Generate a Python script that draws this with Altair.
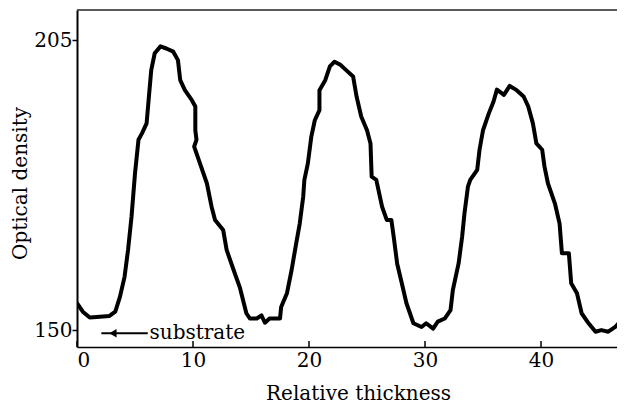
import altair as alt
import pandas as pd

# Curve
thickness = [0.0, 0.5, 1.1, 1.7, 2.8, 3.3, 3.7, 4.1, 4.4, 4.7, 5.0, 5.3, 5.6, 6.0, 6.2, 6.4, 6.7, 7.2, 7.7, 8.3,
             8.7, 8.9, 9.3, 9.9, 10.2, 10.2, 10.3, 10.1, 10.6, 11.2, 11.6, 11.9, 12.6, 12.9, 13.5, 14.05, 14.6, 14.9,
             15.5, 15.9, 16.2, 16.6, 17.5, 17.6, 18.1, 18.5, 18.9, 19.2, 19.5, 19.6, 19.9, 20.2, 20.5, 20.9, 20.9,
             21.4, 21.8, 22.2, 22.7, 23.2, 23.8, 24.1, 24.5, 25.0, 25.3, 25.4, 25.8, 26.3, 26.7, 27.1, 27.3, 27.6,
             28.0, 28.4, 29.0, 29.7, 30.1, 30.7, 31.1, 31.7, 32.2, 32.4, 32.9, 33.2, 33.4, 33.7, 33.9, 34.5, 34.7,
             35.0, 35.5, 35.9, 36.2, 36.8, 37.3, 37.9, 38.5, 38.9, 39.3, 39.6, 40.1, 40.3, 40.6, 41.2, 41.6, 41.8,
             42.4, 42.6, 43.1, 43.5, 44.1, 44.7, 45.2, 45.8, 46.4, 46.8, 47.2]
density = [155.1, 153.5, 152.4, 152.5, 152.7, 153.5, 156.3, 160.1, 165.2, 171.5, 179.7, 186.1, 187.3, 189.2, 194.3,
           199.3, 202.5, 203.8, 203.4, 202.8, 201.2, 197.4, 195.5, 193.6, 192.4, 187.9, 186.1, 184.8, 181.6, 177.8,
           173.4, 170.9, 169.0, 165.2, 161.4, 158.0, 153.2, 152.2, 152.2, 152.8, 151.4, 152.2, 152.2, 154.4, 157.0,
           161.4, 166.5, 170.2, 175.3, 178.5, 181.6, 186.7, 189.8, 191.7, 195.5, 197.4, 200.0, 200.9, 200.3, 199.3,
           198.1, 194.3, 190.5, 187.9, 185.4, 179.1, 178.5, 173.4, 170.9, 170.9, 167.7, 162.6, 158.9, 155.1, 151.3,
           150.6, 151.3, 150.3, 151.6, 152.2, 153.8, 157.6, 162.7, 167.7, 172.1, 177.2, 178.5, 180.4, 184.2, 187.9,
           191.1, 193.3, 195.6, 194.6, 196.3, 195.5, 194.3, 192.4, 189.2, 185.4, 184.2, 181.0, 177.8, 174.0, 170.2,
           164.6, 164.6, 158.9, 157.0, 153.2, 151.3, 149.7, 150.0, 149.7, 150.6, 151.6, 153.8]

x_ticks = [0, 10, 20, 30, 40]
y_ticks = [150, 205]
X_MAX = 46.55
Y_MIN, Y_MAX = 146.8, 210.7

arrow_x = [2.1, 6.1]
arrow_y = [149.4, 149.4]
label_text = ["substrate"]
label_x = [6.25]
label_y = [148.3]

W, H = 540, 337
FONT = "DejaVu Serif"

df = pd.DataFrame({"t": thickness, "d": density, "i": list(range(len(thickness)))})
xs = alt.Scale(domain=[0, X_MAX], nice=False, zero=False)
ys = alt.Scale(domain=[Y_MIN, Y_MAX], nice=False, zero=False)

curve = alt.Chart(df).mark_line(color="black", strokeWidth=4, strokeJoin="round", strokeCap="round", clip=True).encode(
    x=alt.X("t:Q", scale=xs, axis=alt.Axis(
        values=x_ticks, title="Relative thickness", ticks=False, grid=False,
        domainColor="black", domainWidth=1.5, labelFont=FONT, labelFontSize=20, labelColor="black",
        labelPadding=3, titleFont=FONT, titleFontSize=20, titleFontWeight="normal", titleColor="black",
        titleBaseline="alphabetic", titleY=52, titleX=281)),
    y=alt.Y("d:Q", scale=ys, axis=alt.Axis(
        values=y_ticks, title="Optical density", grid=False, tickSize=5, tickColor="black", tickWidth=1.5,
        domainColor="black", domainWidth=2, labelFont=FONT, labelFontSize=20, labelColor="black",
        labelPadding=0, titleFont=FONT, titleFontSize=20, titleFontWeight="normal", titleColor="black",
        titleBaseline="alphabetic", titleAngle=-90, titleX=-51, titleY=173, titleAlign="center")),
    order="i:Q",
)

tick_df = pd.DataFrame({"x": x_ticks})
xtick_marks = alt.Chart(tick_df).mark_rule(color="black", strokeWidth=1.5).encode(
    x=alt.X("x:Q", scale=xs), y=alt.value(H), y2=alt.value(H - 6))

top_line = alt.Chart(pd.DataFrame({"a": [0]})).mark_rule(color="#222", strokeWidth=1.5).encode(
    x=alt.datum(0, scale=xs), x2=alt.datum(X_MAX), y=alt.datum(Y_MAX, scale=ys))

arrow_df = pd.DataFrame({"x": arrow_x, "y": arrow_y})
arrow = alt.Chart(arrow_df).mark_line(color="black", strokeWidth=2).encode(
    x=alt.X("x:Q", scale=xs), y=alt.Y("y:Q", scale=ys))
head = alt.Chart(pd.DataFrame({"x": [3.1], "y": [arrow_y[0]]})).mark_point(
    shape="triangle-left", filled=True, color="black", size=70, opacity=1).encode(
    x=alt.X("x:Q", scale=xs), y=alt.Y("y:Q", scale=ys))

label = alt.Chart(pd.DataFrame({"x": label_x, "y": label_y, "s": label_text})).mark_text(
    font=FONT, fontSize=20, color="black", align="left", baseline="alphabetic").encode(
    x=alt.X("x:Q", scale=xs), y=alt.Y("y:Q", scale=ys), text="s:N")

chart = alt.layer(curve, xtick_marks, top_line, arrow, head, label).properties(
    width=W, height=H,
    autosize=alt.AutoSizeParams(type="none"),
    padding={"left": 69, "top": 2, "right": 0, "bottom": 56},
    background="white",
).configure_view(strokeWidth=0)

chart.save("out.html", embed_options={"renderer": "svg", "actions": False})
